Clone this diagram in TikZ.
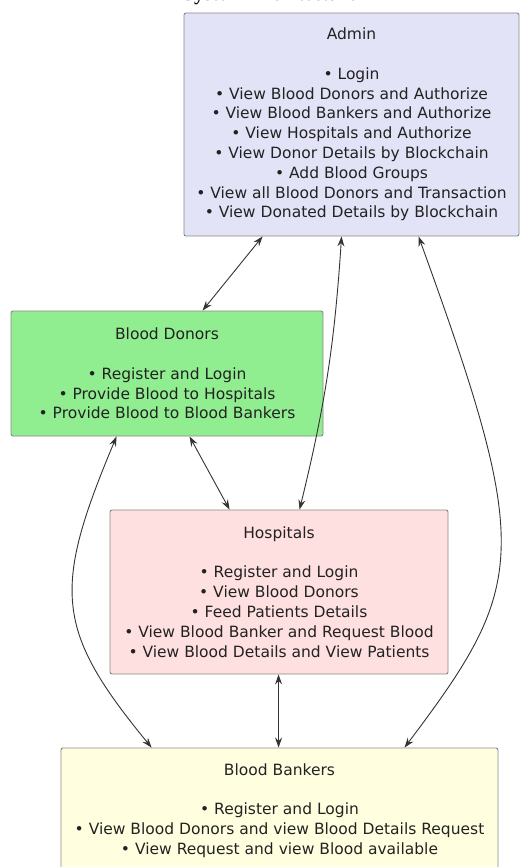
\documentclass[tikz,border=0pt]{standalone}
\usepackage{fontspec}
\newfontfamily\boxfont{DejaVu Sans}
\newfontfamily\titlefont{Liberation Serif}
\usetikzlibrary{arrows.meta}
\definecolor{adminfill}{HTML}{E3E3F8}
\definecolor{donorfill}{HTML}{90EE90}
\definecolor{hospfill}{HTML}{FFE0E0}
\definecolor{bankfill}{HTML}{FFFFE0}
\definecolor{boxline}{HTML}{888888}
\definecolor{txt}{HTML}{222222}
\definecolor{arrcol}{HTML}{333333}
\begin{document}
\begin{tikzpicture}[x=1pt,y=-1pt,
  box/.style={draw=boxline, line width=0.9pt, rounded corners=2pt, align=center,
    font=\boxfont\fontsize{15.5}{19.8}\selectfont, text=txt, inner sep=0pt},
  link/.style={draw=arrcol, line width=0.9pt,
    {Stealth[length=10pt,width=7pt,inset=3.5pt]}-{Stealth[length=10pt,width=7pt,inset=3.5pt]}}]
\useasboundingbox (0,0) rectangle (520,867);
\node[font=\titlefont\bfseries\fontsize{20}{24}\selectfont, anchor=base] (title) at (270,1) {System Architecture};
\node[box, fill=adminfill, minimum width=335pt, minimum height=223pt] (admin) at (351.5,124.5)
 {Admin\\[19.8pt]• Login\\• View Blood Donors and Authorize\\• View Blood Bankers and Authorize\\• View Hospitals and Authorize\\• View Donor Details by Blockchain\\• Add Blood Groups\\• View all Blood Donors and Transaction\\• View Donated Details by Blockchain};
\node[box, fill=donorfill, minimum width=312pt, minimum height=125pt] (donors) at (167,373.5)
 {Blood Donors\\[19.8pt]• Register and Login\\• Provide Blood to Hospitals\\• Provide Blood to Blood Bankers};
\node[box, fill=hospfill, minimum width=338pt, minimum height=164pt] (hosp) at (279,592)
 {Hospitals\\[19.8pt]• Register and Login\\• View Blood Donors\\• Feed Patients Details\\• View Blood Banker and Request Blood\\• View Blood Details and View Patients};
\node[box, fill=bankfill, minimum width=437pt, minimum height=125pt] (bank) at (279.5,810.5)
 {Blood Bankers\\[19.8pt]• Register and Login\\• View Blood Donors and view Blood Details Request\\• View Request and view Blood available};
% connectors
\draw[link] ([xshift=79pt]admin.south west) -- ([xshift=192pt]donors.north west);
\draw[link] ([xshift=158pt]admin.south west) to[bend left=5] ([xshift=190pt]hosp.north west);
\draw[link] ([xshift=235pt]admin.south west) .. controls (533,552) and (527,585) .. ([xshift=344pt]bank.north west);
\draw[link] ([xshift=106pt]donors.south west) .. controls (52,590) and (55,630) .. ([xshift=91pt]bank.north west);
\draw[link] ([xshift=179pt]donors.south west) -- ([xshift=120pt]hosp.north west);
\draw[link] ([xshift=169pt]hosp.south west) -- ([xshift=218pt]bank.north west);
\end{tikzpicture}
\end{document}
